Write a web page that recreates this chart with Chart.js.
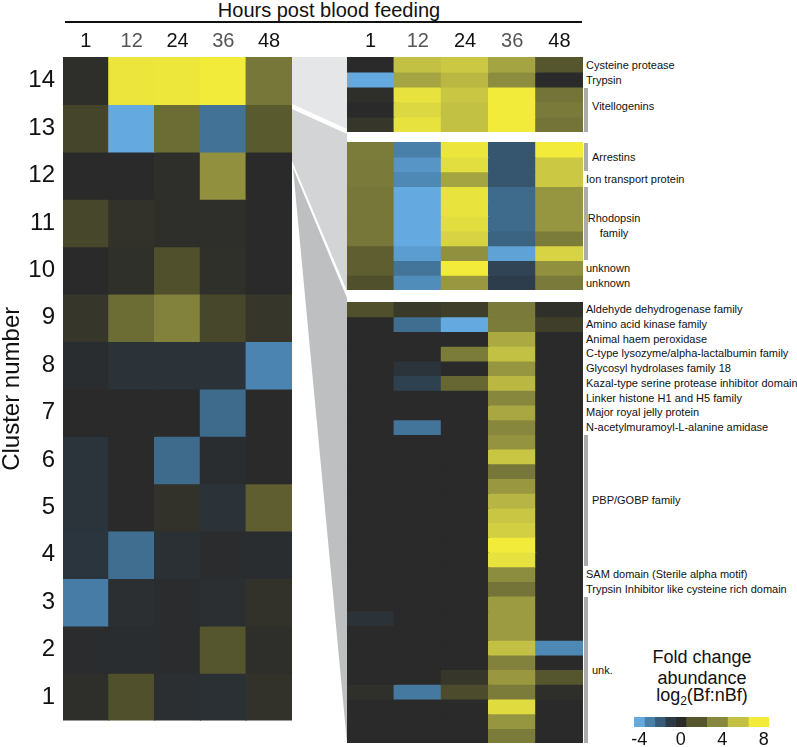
<!DOCTYPE html>
<html>
<head>
<meta charset="utf-8">
<script src="https://cdn.jsdelivr.net/npm/chart.js@4.4.0/dist/chart.umd.min.js"></script>
<style>
  body { margin: 0; background: #fff; font-family: "Liberation Sans", Arial, sans-serif; color: #111; }
  #fig { position: relative; width: 797px; height: 747px; overflow: hidden; }
  #fig canvas, #fig .t, #fig .bar, #fig svg { position: absolute; }
  .t { white-space: nowrap; line-height: 1; }
  .t sub { font-size: 12px; line-height: 0; vertical-align: -4px; }
  .bar { background: #ababab; }
</style>
</head>
<body>
<div id="fig">
  <svg width="797" height="747" style="left:0;top:0">
    <polygon points="292,57 347,57 347,129 292,104" fill="#e5e6e8" />
    <polygon points="292,109 347,134 347,291 292,161" fill="#d3d4d6" />
    <polygon points="293,168 347,298 347,743" fill="#bebfc1" />
  </svg>
  <canvas id="clusters" width="292" height="718" style="left:0;top:25px"></canvas>
  <canvas id="top" width="236" height="107" style="left:347px;top:25px"></canvas>
  <canvas id="mid" width="236" height="148" style="left:347px;top:142px"></canvas>
  <canvas id="low" width="236" height="441" style="left:347px;top:302px"></canvas>
  <canvas id="scale" width="165" height="35" style="left:620px;top:712px"></canvas>
</div>
<script>
Chart.defaults.font.family = '"Liberation Sans", Arial, sans-serif';
Chart.defaults.color = '#111';

// hours post blood feeding (columns)
const hours = ['1', '12', '24', '36', '48'];
const clusterLabels = ['14', '13', '12', '11', '10', '9', '8', '7', '6', '5', '4', '3', '2', '1'];

// log2(Bf:nBf) per cluster, top row = cluster 14
const clusterRows = [
  [0.2, 7.7, 7.8, 8, 3.4],
  [1.3, -4, 3, -2.6, 2.2],
  [0, 0, 0.2, 4.3, 0],
  [1.4, 0.4, 0.2, 0.2, 0],
  [0, 0.3, 1.8, 0.3, 0],
  [0.6, 3, 3.8, 1.4, 0.6],
  [-0.2, -0.5, -0.5, -0.5, -3.1],
  [0, 0, 0, -2.4, 0],
  [-0.6, 0, -2.4, -0.2, 0],
  [-0.6, 0, 0.4, -0.5, 2.4],
  [-0.7, -2.5, -0.4, -0.1, -0.2],
  [-2.9, -0.3, -0.1, -0.3, 0.4],
  [-0.1, -0.2, -0.1, 2, 0.2],
  [0.2, 1.8, -0.3, -0.4, 0.4],
];

// cluster 14 genes
const topGenes = [
  [0, 6, 6.3, 5, 2],
  [-4, 5, 5.7, 4.2, 0],
  [0.2, 7.5, 6.2, 8, 3.3],
  [0, 7, 6, 8, 3.5],
  [0.6, 7.5, 6, 8, 3.3],
];

// cluster 13 genes
const midGenes = [
  [3.6, -3, 7.7, -1.8, 8],
  [3.5, -3.5, 7.3, -1.8, 6.3],
  [3.5, -3.2, 5, -1.8, 6.3],
  [3.4, -4, 7.6, -2.4, 4.5],
  [3.4, -4, 7.6, -2.4, 4.5],
  [3.4, -4, 7.3, -2.4, 4.5],
  [3.4, -4, 6.8, -2.2, 3.6],
  [2.4, -3.7, 4.3, -3.8, 6.8],
  [2.4, -2.7, 8, -1.3, 4.3],
  [1.8, -3.3, 4.6, -1.1, 3.5],
];

// cluster 12 genes
const lowGenes = [
  [1.8, 0.8, 1, 3.5, 0.3],
  [0, -2.5, -4, 3.6, 1],
  [0, 0, 0, 5.2, 0],
  [0, 0, 3.6, 6, 0],
  [0, -0.6, 0, 4.5, 0],
  [0, -1.2, 2.8, 5.7, 0],
  [0, 0, 0, 4, 0],
  [0, 0, 0, 5.1, 0],
  [0, -2.7, 0, 4, 0],
  [0, 0, 0, 4.4, 0],
  [0, 0, 0, 6.2, 0],
  [0, 0, 0, 3.4, 0],
  [0, 0, 0, 4.6, 0],
  [0, 0, 0, 5.6, 0],
  [0, 0, 0, 6.2, 0],
  [0, 0, 0, 6.6, 0],
  [0, 0, 0, 8, 0],
  [0, 0, 0, 7.5, 0],
  [0, 0, 0, 4.2, 0],
  [0, 0, 0, 3.3, 0],
  [0, 0, 0, 4.7, 0],
  [-0.5, 0, 0, 4.7, 0],
  [0, 0, 0, 4.7, 0],
  [0, 0, 0, 6, -3.2],
  [0, 0, 0, 3.8, 0],
  [0, 0, 0.6, 4.6, 2],
  [0.3, -2.8, 1.6, 3.6, 0.2],
  [0, 0, 0, 7.2, 0],
  [0, 0, 0, 4.5, 0],
  [0, 0, 0, 3.6, 0],
];

const topNotes = [
  { text: 'Cysteine protease', rows: [0, 0] },
  { text: 'Trypsin', rows: [1, 1] },
  { text: 'Vitellogenins', rows: [2, 4], bracket: true, dy: -4 },
];
const midNotes = [
  { text: 'Arrestins', rows: [0, 1], bracket: true },
  { text: 'Ion transport protein', rows: [2, 2] },
  { text: 'Rhodopsin<br>family', rows: [3, 7], bracket: true, dy: 2, center: true },
  { text: 'unknown', rows: [8, 8] },
  { text: 'unknown', rows: [9, 9] },
];
const lowNotes = [
  { text: 'Aldehyde dehydrogenase family', rows: [0, 0] },
  { text: 'Amino acid kinase family', rows: [1, 1] },
  { text: 'Animal haem peroxidase', rows: [2, 2] },
  { text: 'C-type lysozyme/alpha-lactalbumin family', rows: [3, 3] },
  { text: 'Glycosyl hydrolases family 18', rows: [4, 4] },
  { text: 'Kazal-type serine protease inhibitor domain', rows: [5, 5] },
  { text: 'Linker histone H1 and H5 family', rows: [6, 6] },
  { text: 'Major royal jelly protein', rows: [7, 7] },
  { text: 'N-acetylmuramoyl-L-alanine amidase', rows: [8, 8] },
  { text: 'PBP/GOBP family', rows: [9, 17], bracket: true },
  { text: 'SAM domain (Sterile alpha motif)', rows: [18, 18] },
  { text: 'Trypsin Inhibitor like cysteine rich domain', rows: [19, 19] },
  { text: 'unk.', rows: [20, 29], bracket: true },
];

// colour key
const legendValues = [-4, -3, -2, -1, 0, 2, 4, 6, 8];
const legendEdges = [-4.5, -3.5, -2.5, -1.5, -0.5, 0.5, 2.5, 4.5, 6.5, 8.5];
const legendTicks = [-4, 0, 4, 8];

const blueStops = [[42, 42, 42], [44, 58, 70], [56, 92, 120], [72, 128, 170], [100, 170, 225]];
const yellowStops = [[42, 42, 42], [62, 62, 42], [85, 85, 46], [108, 108, 53], [135, 135, 62],
  [165, 164, 66], [195, 193, 68], [220, 216, 65], [242, 235, 58]];

function colorFor(v) {
  const stops = v < 0 ? blueStops : yellowStops;
  const a = Math.min(Math.abs(v), stops.length - 1);
  const i = Math.min(Math.floor(a), stops.length - 2);
  const f = a - i;
  const c = stops[i].map((s, k) => Math.round(s + (stops[i + 1][k] - s) * f));
  return `rgb(${c[0]},${c[1]},${c[2]})`;
}

function heatDatasets(rows) {
  return rows.map((vals, i) => ({
    data: vals.map(() => [i, i + 1]),
    backgroundColor: vals.map(colorFor),
    borderWidth: 0,
    inflateAmount: 0.6,
    barPercentage: 1,
    categoryPercentage: 1,
    grouped: false,
  }));
}

const hourColors = ['#111', '#555', '#111', '#555', '#111'];
function hoursAxis() {
  return {
    type: 'category',
    position: 'top',
    grid: { display: false, drawTicks: false },
    border: { display: false },
    ticks: { font: { size: 20 }, color: c => hourColors[c.index], padding: 4, autoSkip: false, maxRotation: 0 },
    afterFit: s => { s.height = 32; },
  };
}

const baseOptions = {
  responsive: false,
  animation: false,
  events: [],
  layout: { padding: 0 },
  plugins: { legend: { display: false }, tooltip: { enabled: false } },
};

function heatmap(id, rows, scales) {
  return new Chart(document.getElementById(id), {
    type: 'bar',
    data: { labels: hours, datasets: heatDatasets(rows) },
    options: {
      ...baseOptions,
      scales: {
        x: { display: false },
        y: { type: 'linear', display: false, min: 0, max: rows.length, reverse: true },
        ...scales,
      },
    },
  });
}

heatmap('clusters', clusterRows, {
  x: hoursAxis(),
  y: {
    type: 'linear',
    min: 0,
    max: clusterRows.length,
    reverse: true,
    afterBuildTicks: s => { s.ticks = clusterLabels.map((_, i) => ({ value: i + 0.5 })); },
    ticks: { callback: (v, i) => clusterLabels[i], font: { size: 24 }, color: '#111', padding: 8, autoSkip: false },
    grid: { display: false, drawTicks: false },
    border: { display: false },
    title: { display: true, text: 'Cluster number', font: { size: 24, lineHeight: 1 }, color: '#111', padding: 0 },
    afterFit: s => { s.width = 63; },
  },
});
heatmap('top', topGenes, { x: hoursAxis() });
heatmap('mid', midGenes, {});
heatmap('low', lowGenes, {});

new Chart(document.getElementById('scale'), {
  type: 'bar',
  data: {
    labels: [''],
    datasets: legendValues.map((v, i) => ({
      data: [[legendEdges[i], legendEdges[i + 1]]],
      backgroundColor: colorFor(v),
      borderWidth: 0,
      barPercentage: 1,
      categoryPercentage: 1,
      grouped: false,
    })),
  },
  options: {
    ...baseOptions,
    indexAxis: 'y',
    layout: { padding: { left: 14, right: 16, top: 5, bottom: 0 } },
    scales: {
      x: {
        type: 'linear',
        min: -4.5,
        max: 8.5,
        afterBuildTicks: s => { s.ticks = legendTicks.map(v => ({ value: v })); },
        ticks: { font: { size: 18 }, color: '#111', padding: 2, callback: v => String(v) },
        grid: { display: false, drawTicks: false },
        border: { display: false },
        afterFit: s => { s.height = 20; },
      },
      y: { display: false },
    },
  },
});

// text and annotation brackets
const fig = document.getElementById('fig');
function addText(html, x, y, size, align) {
  const d = document.createElement('div');
  d.className = 't';
  d.innerHTML = html;
  d.style.fontSize = size + 'px';
  d.style.left = x + 'px';
  d.style.top = y + 'px';
  d.style.transform = `translate(${align === 'center' ? '-50%' : '0'},-50%)`;
  if (align === 'center') d.style.textAlign = 'center';
  fig.appendChild(d);
  return d;
}
function addBar(x, y0, y1) {
  const d = document.createElement('div');
  d.className = 'bar';
  Object.assign(d.style, { left: x + 'px', top: y0 + 'px', width: '4px', height: (y1 - y0) + 'px' });
  fig.appendChild(d);
}
function annotate(notes, top, height, count) {
  const rh = height / count;
  notes.forEach(n => {
    const y0 = top + n.rows[0] * rh;
    const y1 = top + (n.rows[1] + 1) * rh;
    const yc = (y0 + y1) / 2 + (n.dy || 0);
    if (n.bracket) {
      addBar(584, y0 + 0.5, y1 - 0.5);
      if (n.center) {
        const d = addText(n.text, 614, yc, 11, 'center');
        d.style.lineHeight = '1.3';
      } else {
        addText(n.text, 592, yc, 11);
      }
    } else {
      addText(n.text, 586, yc, 11);
    }
  });
}
annotate(topNotes, 57, 75, topGenes.length);
annotate(midNotes, 142, 148, midGenes.length);
annotate(lowNotes, 302, 441, lowGenes.length);

addText('Hours post blood feeding', 329, 10, 20, 'center');
const rule = document.createElement('div');
Object.assign(rule.style, { position: 'absolute', left: '65px', top: '21px', width: '517px', height: '2px', background: '#111' });
fig.appendChild(rule);

addText('Fold change', 702, 657, 18, 'center');
addText('abundance', 702, 678, 18, 'center');
addText('log<sub>2</sub>(Bf:nBf)', 702, 695, 18, 'center');
</script>
</body>
</html>
